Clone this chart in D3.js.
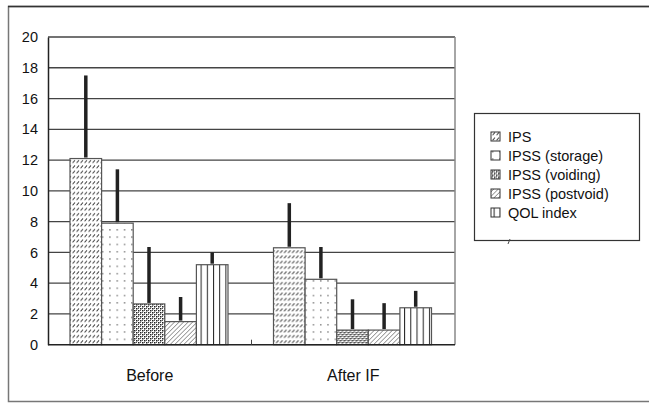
<!DOCTYPE html>
<html><head><meta charset="utf-8">
<script src="https://cdn.jsdelivr.net/npm/d3@7"></script>
<style>body{margin:0;background:#fff}svg{display:block;font-family:"Liberation Sans",Arial,sans-serif}</style>
</head><body><svg id="c" width="649" height="403"></svg>
<script>
const categories = ["Before", "After IF"];
const seriesNames = ["IPS", "IPSS (storage)", "IPSS (voiding)", "IPSS (postvoid)", "QOL index"];
const beforeMeans = [12.1, 7.9, 2.65, 1.5, 5.2];
const beforeUpper = [17.5, 11.4, 6.35, 3.1, 6.0];
const afterMeans = [6.3, 4.25, 0.95, 0.95, 2.4];
const afterUpper = [9.2, 6.35, 2.95, 2.7, 3.5];
const yTicks = [0, 2, 4, 6, 8, 10, 12, 14, 16, 18, 20];

const means = [beforeMeans, afterMeans];
const uppers = [beforeUpper, afterUpper];

const svg = d3.select("#c");
const defs = svg.append("defs");

// patterns
const pIPS = defs.append("pattern").attr("id","p0").attr("patternUnits","userSpaceOnUse").attr("width",4).attr("height",5.3);
pIPS.append("rect").attr("width",4).attr("height",5.3).attr("fill","#fff");
pIPS.append("line").attr("x1",0.6).attr("y1",3.8).attr("x2",3.0).attr("y2",1.2).attr("stroke","#333").attr("stroke-width",0.9);

const pSt = defs.append("pattern").attr("id","p1").attr("patternUnits","userSpaceOnUse").attr("width",7.3).attr("height",7.3);
pSt.append("rect").attr("width",7.3).attr("height",7.3).attr("fill","#fff");
pSt.append("rect").attr("x",3).attr("y",3).attr("width",1.1).attr("height",1.1).attr("fill","#222");

const pV = defs.append("pattern").attr("id","p2").attr("patternUnits","userSpaceOnUse").attr("width",4).attr("height",4);
pV.append("rect").attr("width",4).attr("height",4).attr("fill","#fff");
pV.append("rect").attr("x",0).attr("y",0).attr("width",1.5).attr("height",1.5).attr("fill","#222");
pV.append("rect").attr("x",2).attr("y",2).attr("width",1.5).attr("height",1.5).attr("fill","#222");
pV.append("rect").attr("x",2).attr("y",0).attr("width",1).attr("height",1).attr("fill","#555");
pV.append("rect").attr("x",0).attr("y",2).attr("width",1).attr("height",1).attr("fill","#555");

const pP = defs.append("pattern").attr("id","p3").attr("patternUnits","userSpaceOnUse").attr("width",3.2).attr("height",3.2).attr("patternTransform","rotate(45)");
pP.append("rect").attr("width",3.2).attr("height",3.2).attr("fill","#fff");
pP.append("line").attr("x1",0).attr("y1",0).attr("x2",0).attr("y2",3.2).attr("stroke","#333").attr("stroke-width",0.9);

const pQ = defs.append("pattern").attr("id","p4").attr("patternUnits","userSpaceOnUse").attr("width",6.2).attr("height",10).attr("x",196);
pQ.append("rect").attr("width",6.2).attr("height",10).attr("fill","#fff");
pQ.append("line").attr("x1",0.5).attr("y1",0).attr("x2",0.5).attr("y2",10).attr("stroke","#222").attr("stroke-width",1);

// outer frame
svg.append("rect").attr("x",8.5).attr("y",6.5).attr("width",660).attr("height",395).attr("fill","none").attr("stroke","#777").attr("stroke-width",1.5);
svg.append("line").attr("x1",8).attr("x2",649).attr("y1",6.5).attr("y2",6.5).attr("stroke","#333").attr("stroke-width",1.5);

const left = 48, right = 455;
const y = d3.scaleLinear().domain([0,20]).range([344.7, 37]);
const x0 = d3.scaleBand().domain(categories).range([left, right]).padding(0);
const x1 = d3.scaleBand().domain(seriesNames).range([22, 180]).padding(0);

// gridlines
svg.append("g").selectAll("line").data(yTicks.filter(d=>d>0)).join("line")
  .attr("x1",left).attr("x2",right).attr("y1",d=>y(d)).attr("y2",d=>y(d))
  .attr("stroke","#444").attr("stroke-width",1.3);
// right edge
svg.append("line").attr("x1",right).attr("x2",right).attr("y1",y(20)).attr("y2",y(0)).attr("stroke","#888").attr("stroke-width",1.5);

// y axis
const yAxis = d3.axisLeft(y).tickValues(yTicks).tickSize(0).tickPadding(10);
const ga = svg.append("g").attr("transform",`translate(${left},0)`).call(yAxis);
ga.select(".domain").attr("stroke","#222").attr("stroke-width",1.5);
ga.selectAll("text").attr("font-size",14.5).attr("fill","#111").attr("font-family","Liberation Sans, Arial, sans-serif");

// bars
const groups = svg.append("g").selectAll("g").data(categories).join("g")
  .attr("transform",d=>`translate(${x0(d)},0)`);
groups.each(function(cat, ci){
  const g = d3.select(this);
  const data = seriesNames.map((s,i)=>({s, i, v: means[ci][i], u: uppers[ci][i]}));
  g.selectAll("rect.bar").data(data).join("rect").attr("class","bar")
    .attr("x",d=>x1(d.s)).attr("width",x1.bandwidth())
    .attr("y",d=>y(d.v)).attr("height",d=>y(0)-y(d.v))
    .attr("fill",d=>`url(#p${d.i})`).attr("stroke","#555").attr("stroke-width",1.2);
  g.selectAll("line.err").data(data).join("line").attr("class","err")
    .attr("x1",d=>x1(d.s)+x1.bandwidth()/2).attr("x2",d=>x1(d.s)+x1.bandwidth()/2)
    .attr("y1",d=>y(d.v)-1).attr("y2",d=>y(d.u))
    .attr("stroke","#222").attr("stroke-width",3.5);
});

// x axis baseline and category labels
svg.append("line").attr("x1",left).attr("x2",right).attr("y1",y(0)).attr("y2",y(0)).attr("stroke","#222").attr("stroke-width",1.6);
svg.append("line").attr("x1",x0("After IF")).attr("x2",x0("After IF")).attr("y1",y(0)-5).attr("y2",y(0)).attr("stroke","#444").attr("stroke-width",1);
svg.append("g").selectAll("text").data(categories).join("text")
  .attr("x",d=>x0(d)+x0.bandwidth()/2).attr("y",381)
  .attr("text-anchor","middle").attr("font-size",16).attr("fill","#111").text(d=>d);

// legend
const lg = svg.append("g");
lg.append("rect").attr("x",474.5).attr("y",113.5).attr("width",165).attr("height",127).attr("fill","#fff").attr("stroke","#333").attr("stroke-width",1.2);
const items = lg.selectAll("g.item").data(seriesNames).join("g").attr("class","item")
  .attr("transform",(d,i)=>`translate(0,${136.5 + i*19})`);
items.append("rect").attr("x",491).attr("y",-4.5).attr("width",9).attr("height",9)
  .attr("fill",(d,i)=>`url(#p${i})`).attr("stroke","#333").attr("stroke-width",1);
items.append("text").attr("x",508).attr("y",5).attr("font-size",14.5).attr("fill","#111").text(d=>d);
lg.append("line").attr("x1",508).attr("y1",244).attr("x2",510).attr("y2",239).attr("stroke","#444").attr("stroke-width",1);
</script></body></html>
